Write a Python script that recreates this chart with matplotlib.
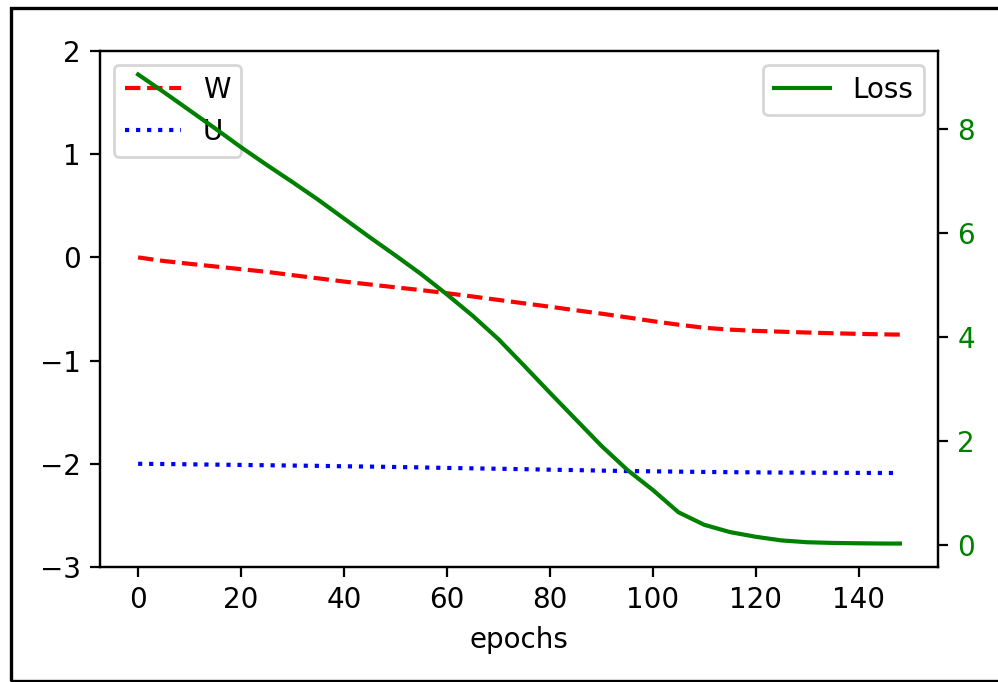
import numpy as np
import matplotlib
matplotlib.use("Agg")
import matplotlib.pyplot as plt
from matplotlib.patches import Rectangle

epochs = [0, 5, 10, 15, 20, 25, 30, 35, 40, 45, 50, 55, 60, 65, 70, 75,
          80, 85, 90, 95, 100, 105, 110, 115, 120, 125, 130, 135, 140, 145, 148]

W = [0.000, -0.035, -0.062, -0.088, -0.114, -0.140, -0.172, -0.203, -0.234,
     -0.262, -0.290, -0.317, -0.347, -0.379, -0.412, -0.445, -0.478, -0.512,
     -0.545, -0.581, -0.618, -0.652, -0.682, -0.700, -0.712, -0.720, -0.728,
     -0.735, -0.741, -0.746, -0.748]

U = [-2.000, -2.002, -2.005, -2.008, -2.011, -2.014, -2.017, -2.020, -2.024,
     -2.027, -2.031, -2.035, -2.040, -2.044, -2.048, -2.052, -2.057, -2.061,
     -2.066, -2.070, -2.073, -2.076, -2.079, -2.081, -2.083, -2.085, -2.086,
     -2.087, -2.088, -2.089, -2.089]

loss = [9.04, 8.70, 8.35, 8.00, 7.64, 7.30, 6.97, 6.63, 6.27, 5.91, 5.56,
        5.20, 4.81, 4.40, 3.95, 3.44, 2.92, 2.41, 1.90, 1.44, 1.05, 0.62,
        0.38, 0.24, 0.15, 0.08, 0.045, 0.032, 0.025, 0.02, 0.02]

dpi = 200
fig = plt.figure(figsize=(998 / dpi, 682 / dpi), dpi=dpi)
ax1 = fig.add_axes([100 / 998, 1 - 567 / 682, 838 / 998, 516 / 682])

ax1.plot(epochs, W, "r--", label="W")
ax1.plot(epochs, U, "b:", label="U")
ax1.set_ylim(-3, 2)
ax1.set_xlabel("epochs")
ax1.legend(loc="upper left")

ax2 = ax1.twinx()
ax2.plot(epochs, loss, "g-", label="Loss")
ax2.tick_params(axis="y", labelcolor="green")
ax2.legend(loc="upper right")

# black frame around the figure (right side runs off the image)
fig.patches.append(Rectangle((10.5 / 998, 1 / 682), 1.0, 673 / 682,
                             transform=fig.transFigure, fill=False,
                             edgecolor="black", linewidth=1.2, clip_on=False))

fig.savefig("out.png", dpi=dpi)
